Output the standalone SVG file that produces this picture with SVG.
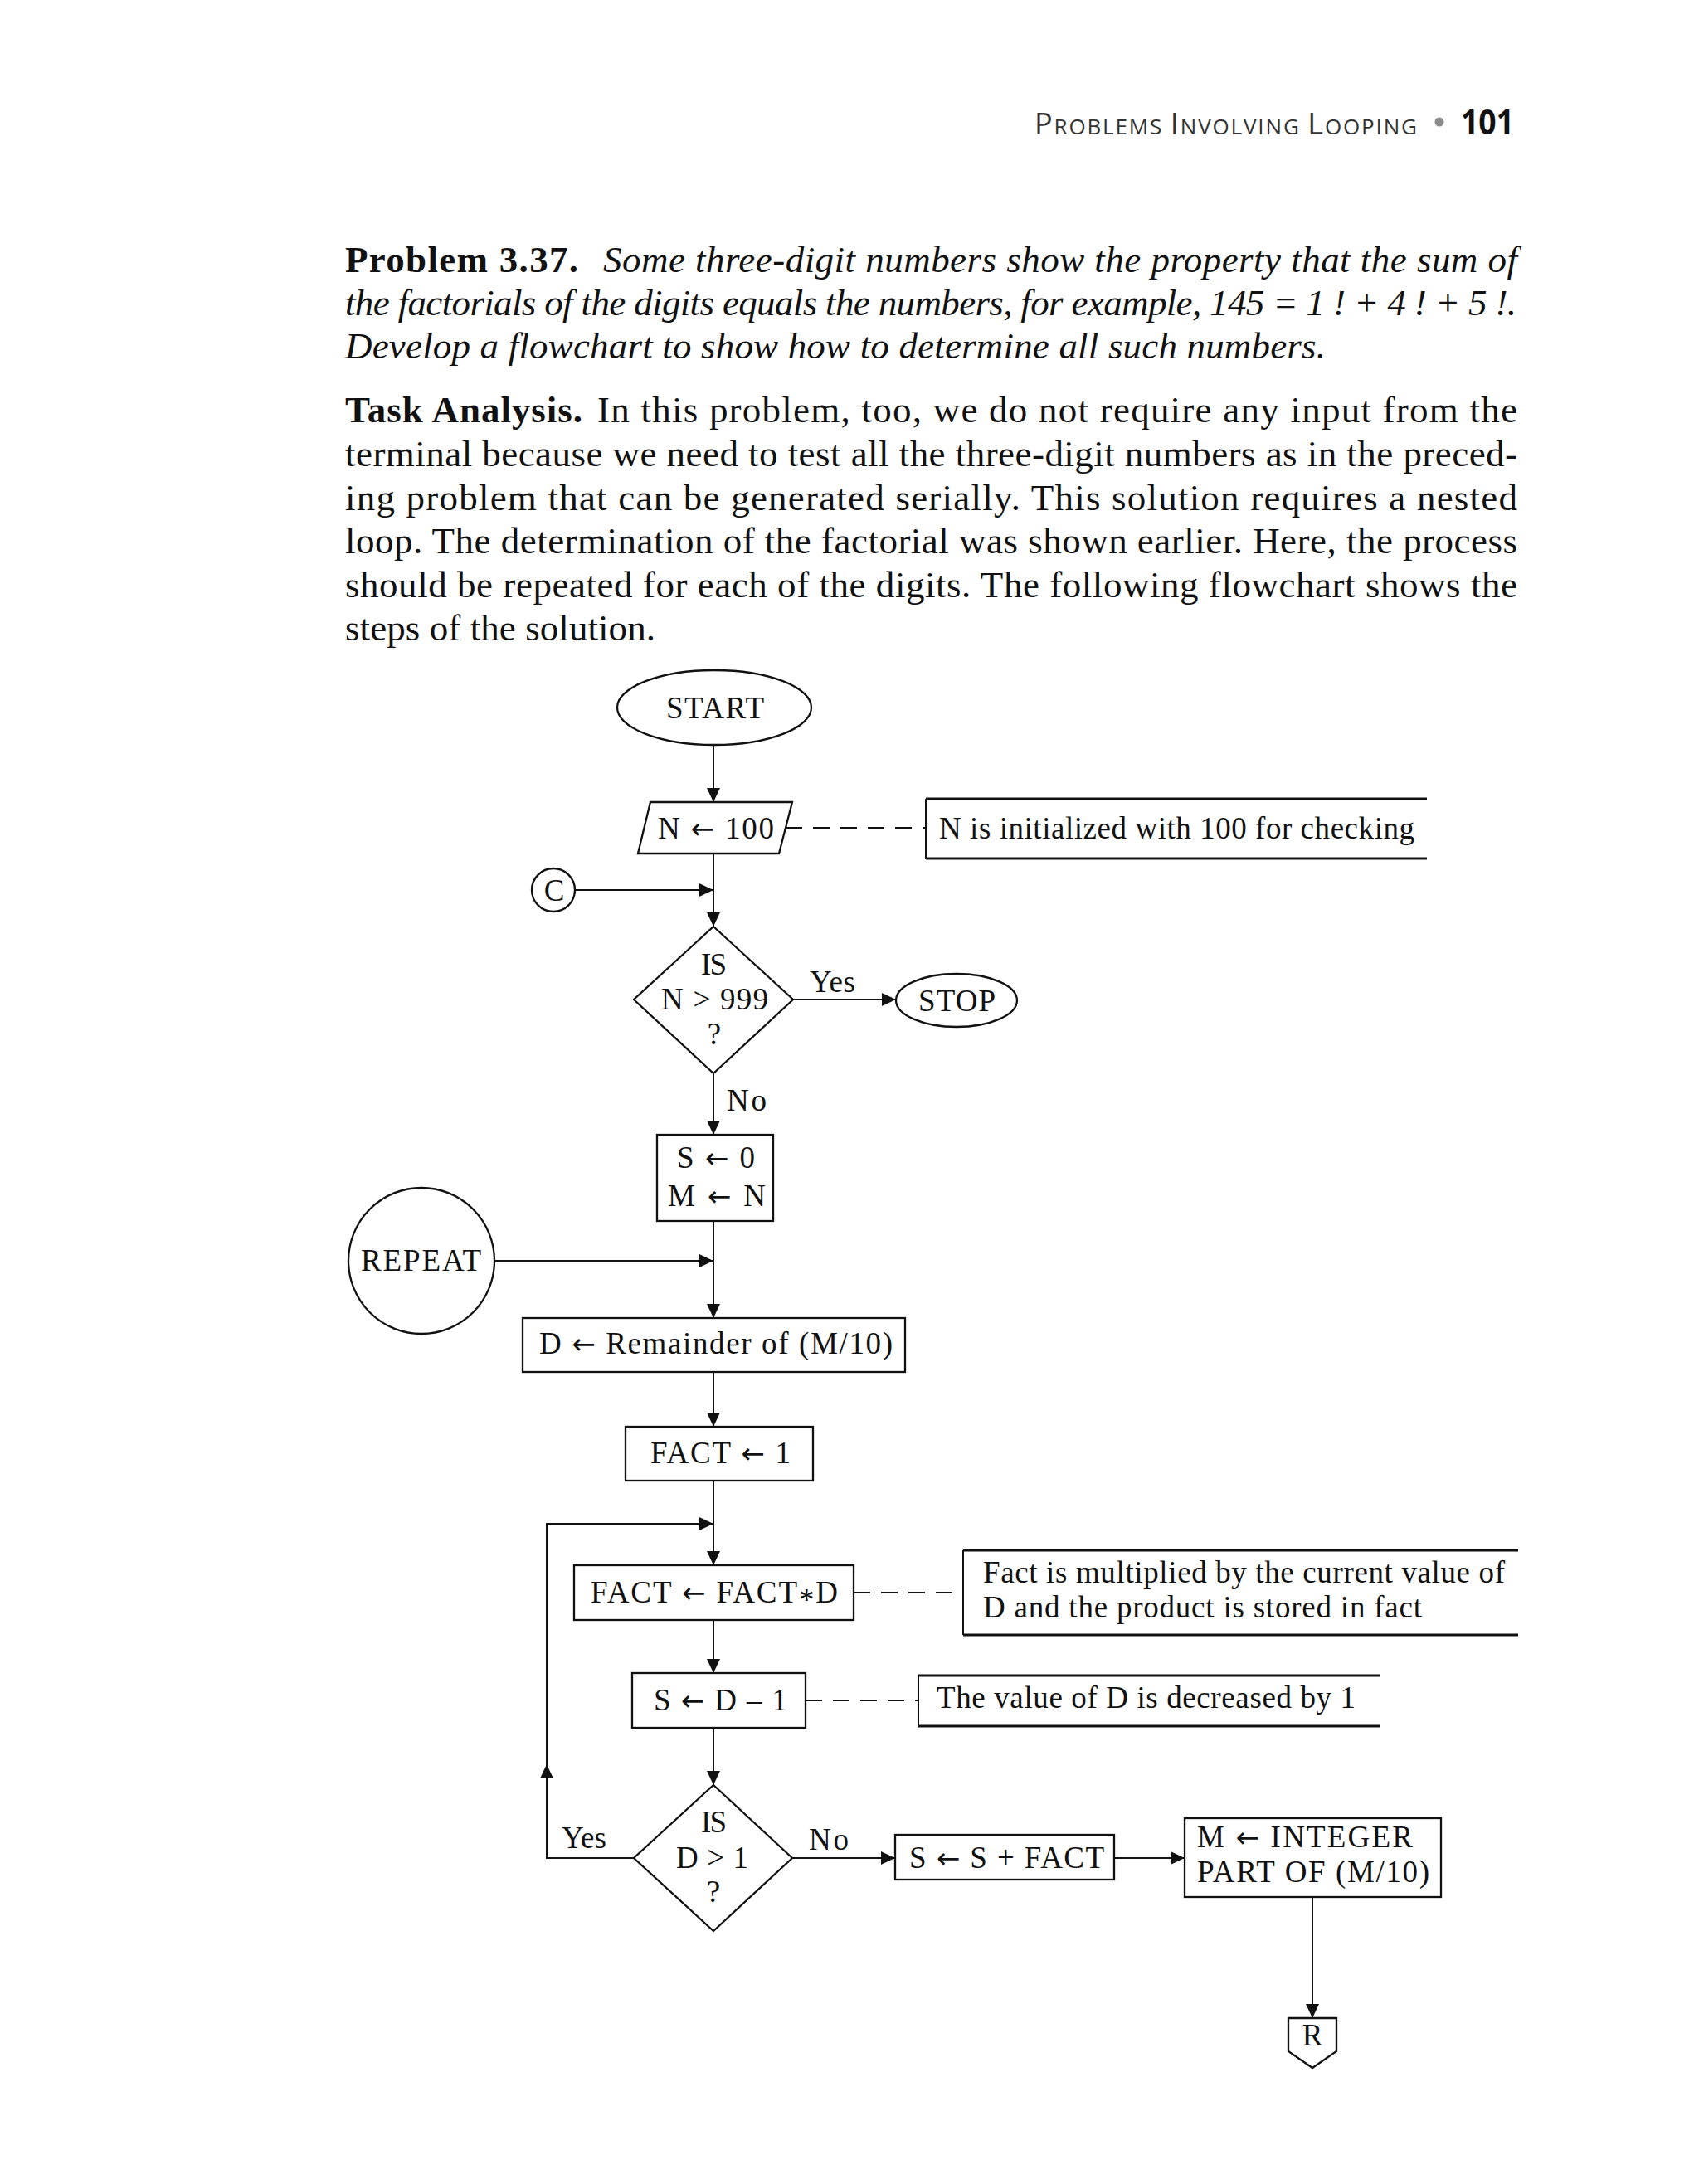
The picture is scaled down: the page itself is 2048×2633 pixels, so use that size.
<svg xmlns="http://www.w3.org/2000/svg" width="2048" height="2633" viewBox="0 0 2048 2633">
<defs>
<marker id="ah" markerUnits="userSpaceOnUse" markerWidth="18" markerHeight="18" refX="17" refY="8" orient="auto" viewBox="0 0 18 16"><path d="M0,0 L17,8 L0,16 z" fill="#111"/></marker>
</defs>
<style>
.lbl{font-family:"Liberation Serif","Times New Roman",serif;font-size:37px;fill:#111}
.mid{text-anchor:middle}
.aw{font-family:"DejaVu Sans ExtraLight","DejaVu Sans",sans-serif;font-size:34px}
.ast{font-family:"Liberation Serif",serif;font-size:37px}
.body{font-family:"Liberation Serif","Times New Roman",serif;font-size:45px;fill:#111}
.it{font-style:italic}
.bd{font-weight:bold}
.shape{fill:none;stroke:#111;stroke-width:2.3}
.arr{fill:none;stroke:#111;stroke-width:2;marker-end:url(#ah)}
.dash{fill:none;stroke:#111;stroke-width:2;stroke-dasharray:20 13}
.note{fill:none;stroke:#111;stroke-width:2.8}
.notev{fill:none;stroke:#111;stroke-width:2}
.hdr{font-family:"Open Sans","Lato",sans-serif;fill:#333}
</style>
<rect width="2048" height="2633" fill="#fff"/>

<g id="header">
<text class="hdr" x="1247" y="162" textLength="461" lengthAdjust="spacing"><tspan font-size="36">P</tspan><tspan font-size="26">ROBLEMS </tspan><tspan font-size="36">I</tspan><tspan font-size="26">NVOLVING </tspan><tspan font-size="36">L</tspan><tspan font-size="26">OOPING</tspan></text>
<circle cx="1735" cy="147" r="5.5" fill="#8a8a8a"/>
<text x="1761" y="162" font-family="'Open Sans','Liberation Sans',sans-serif" font-weight="bold" font-size="42" fill="#111" textLength="64" lengthAdjust="spacingAndGlyphs">101</text>
</g>

<g id="problem">
<text class="body bd" x="416" y="328" textLength="281" lengthAdjust="spacing">Problem 3.37.</text>
<text class="body it" x="727" y="328" textLength="1102" lengthAdjust="spacing">Some three-digit numbers show the property that the sum of</text>
<text class="body it" x="416" y="380" textLength="1412" lengthAdjust="spacing">the factorials of the digits equals the numbers, for example, 145 = 1 ! + 4 ! + 5 !.</text>
<text class="body it" x="416" y="432" textLength="1182" lengthAdjust="spacing">Develop a flowchart to show how to determine all such numbers.</text>
</g>

<g id="task">
<text class="body bd" x="416" y="509" textLength="286" lengthAdjust="spacing">Task Analysis.</text>
<text class="body" x="720" y="509" textLength="1109" lengthAdjust="spacing">In this problem, too, we do not require any input from the</text>
<text class="body" x="416" y="562" textLength="1413" lengthAdjust="spacing">terminal because we need to test all the three-digit numbers as in the preced-</text>
<text class="body" x="416" y="615" textLength="1413" lengthAdjust="spacing">ing problem that can be generated serially. This solution requires a nested</text>
<text class="body" x="416" y="667" textLength="1413" lengthAdjust="spacing">loop. The determination of the factorial was shown earlier. Here, the process</text>
<text class="body" x="416" y="720" textLength="1413" lengthAdjust="spacing">should be repeated for each of the digits. The following flowchart shows the</text>
<text class="body" x="416" y="772" textLength="374" lengthAdjust="spacing">steps of the solution.</text>
</g>

<g id="connectors">
<line class="arr" x1="860" y1="899" x2="860" y2="967"/>
<line class="arr" x1="860" y1="1029" x2="860" y2="1117"/>
<line class="arr" x1="693" y1="1073" x2="860" y2="1073"/>
<line class="arr" x1="956" y1="1205" x2="1080" y2="1205"/>
<line class="arr" x1="860" y1="1294" x2="860" y2="1368"/>
<line class="arr" x1="860" y1="1472" x2="860" y2="1589"/>
<line class="arr" x1="596" y1="1520" x2="860" y2="1520"/>
<line class="arr" x1="860" y1="1654" x2="860" y2="1720"/>
<line class="arr" x1="860" y1="1785" x2="860" y2="1887"/>
<line class="arr" x1="860" y1="1953" x2="860" y2="2017"/>
<line class="arr" x1="860" y1="2083" x2="860" y2="2152"/>
<path class="arr" d="M764,2240 H659 V2127"/>
<path class="arr" d="M659,2128 V1837 H860"/>
<line class="arr" x1="955" y1="2240" x2="1079" y2="2240"/>
<line class="arr" x1="1343" y1="2240" x2="1428" y2="2240"/>
<line class="arr" x1="1582" y1="2287" x2="1582" y2="2433"/>
<line class="dash" x1="947" y1="998" x2="1116" y2="998"/>
<line class="dash" x1="1029" y1="1920" x2="1161" y2="1920"/>
<line class="dash" x1="971" y1="2050" x2="1107" y2="2050"/>
<text class="lbl" x="976" y="1196" textLength="55" lengthAdjust="spacing">Yes</text>
<text class="lbl" x="876" y="1339" textLength="48" lengthAdjust="spacing">No</text>
<text class="lbl" x="677" y="2228" textLength="54" lengthAdjust="spacing">Yes</text>
<text class="lbl" x="975" y="2230" textLength="48" lengthAdjust="spacing">No</text>
</g>

<g id="start">
<ellipse class="shape" cx="861" cy="853" rx="117" ry="45"/>
<text class="lbl" x="803" y="866" textLength="118" lengthAdjust="spacing">START</text>
</g>

<g id="init-n">
<polygon class="shape" points="784,967 955,967 939,1029 769,1029"/>
<text class="lbl" x="793" y="1011" textLength="140" lengthAdjust="spacing">N <tspan class="aw">←</tspan> 100</text>
</g>

<g id="note-init">
<path class="note" d="M1720,963 H1116 M1116,1035 H1720"/>
<path class="notev" d="M1116,963 V1035"/>
<text class="lbl" x="1132" y="1011" textLength="573" lengthAdjust="spacing">N is initialized with 100 for checking</text>
</g>

<g id="conn-c">
<circle class="shape" cx="667" cy="1073" r="26"/>
<text class="lbl mid" x="668" y="1086">C</text>
</g>

<g id="dec-n">
<polygon class="shape" points="860,1117 956,1205 860,1294 764,1205"/>
<text class="lbl" x="845" y="1175" textLength="31" lengthAdjust="spacing">IS</text>
<text class="lbl" x="797" y="1217" textLength="129" lengthAdjust="spacing">N &gt; 999</text>
<text class="lbl mid" x="861" y="1259">?</text>
</g>

<g id="stop">
<ellipse class="shape" cx="1153" cy="1206" rx="73" ry="32"/>
<text class="lbl" x="1107" y="1219" textLength="93" lengthAdjust="spacing">STOP</text>
</g>

<g id="init-sm">
<rect class="shape" x="792" y="1368" width="140" height="104"/>
<text class="lbl" x="816" y="1408" textLength="94" lengthAdjust="spacing">S <tspan class="aw">←</tspan> 0</text>
<text class="lbl" x="805" y="1454" textLength="118" lengthAdjust="spacing">M <tspan class="aw">←</tspan> N</text>
</g>

<g id="repeat">
<circle class="shape" cx="508" cy="1520" r="88"/>
<text class="lbl" x="435" y="1532" textLength="145" lengthAdjust="spacing">REPEAT</text>
</g>

<g id="remainder">
<rect class="shape" x="630" y="1589" width="461" height="65"/>
<text class="lbl" x="650" y="1632" textLength="426" lengthAdjust="spacing">D <tspan class="aw">←</tspan> Remainder of (M/10)</text>
</g>

<g id="fact-init">
<rect class="shape" x="754" y="1720" width="226" height="65"/>
<text class="lbl" x="784" y="1764" textLength="169" lengthAdjust="spacing">FACT <tspan class="aw">←</tspan> 1</text>
</g>

<g id="fact-mul">
<rect class="shape" x="692" y="1887" width="337" height="66"/>
<text class="lbl" x="712" y="1932" textLength="298" lengthAdjust="spacing">FACT <tspan class="aw">←</tspan> FACT<tspan class="ast" dy="9">*</tspan><tspan dy="-9">D</tspan></text>
</g>

<g id="note-fact">
<path class="note" d="M1830,1869 H1161 M1161,1971 H1830"/>
<path class="notev" d="M1161,1869 V1971"/>
<text class="lbl" x="1185" y="1908" textLength="629" lengthAdjust="spacing">Fact is multiplied by the current value of</text>
<text class="lbl" x="1185" y="1950" textLength="529" lengthAdjust="spacing">D and the product is stored in fact</text>
</g>

<g id="dec-d">
<rect class="shape" x="762" y="2017" width="209" height="66"/>
<text class="lbl" x="788" y="2062" textLength="161" lengthAdjust="spacing">S <tspan class="aw">←</tspan> D – 1</text>
</g>

<g id="note-d">
<path class="note" d="M1664,2020 H1107 M1107,2081 H1664"/>
<path class="notev" d="M1107,2020 V2081"/>
<text class="lbl" x="1129" y="2059" textLength="505" lengthAdjust="spacing">The value of D is decreased by 1</text>
</g>

<g id="dec-d-test">
<polygon class="shape" points="860,2152 955,2240 860,2328 764,2240"/>
<text class="lbl" x="845" y="2209" textLength="31" lengthAdjust="spacing">IS</text>
<text class="lbl" x="815" y="2252" textLength="87" lengthAdjust="spacing">D &gt; 1</text>
<text class="lbl mid" x="860" y="2293">?</text>
</g>

<g id="sum">
<rect class="shape" x="1079" y="2212" width="264" height="54"/>
<text class="lbl" x="1096" y="2252" textLength="235" lengthAdjust="spacing">S <tspan class="aw">←</tspan> S + FACT</text>
</g>

<g id="m-int">
<rect class="shape" x="1428" y="2192" width="309" height="95"/>
<text class="lbl" x="1443" y="2227" textLength="260" lengthAdjust="spacing">M <tspan class="aw">←</tspan> INTEGER</text>
<text class="lbl" x="1443" y="2269" textLength="280" lengthAdjust="spacing">PART OF (M/10)</text>
</g>

<g id="conn-r">
<polygon class="shape" points="1553,2433 1611,2433 1611,2473 1582,2493 1553,2473"/>
<text class="lbl mid" x="1582" y="2466">R</text>
</g>
</svg>
